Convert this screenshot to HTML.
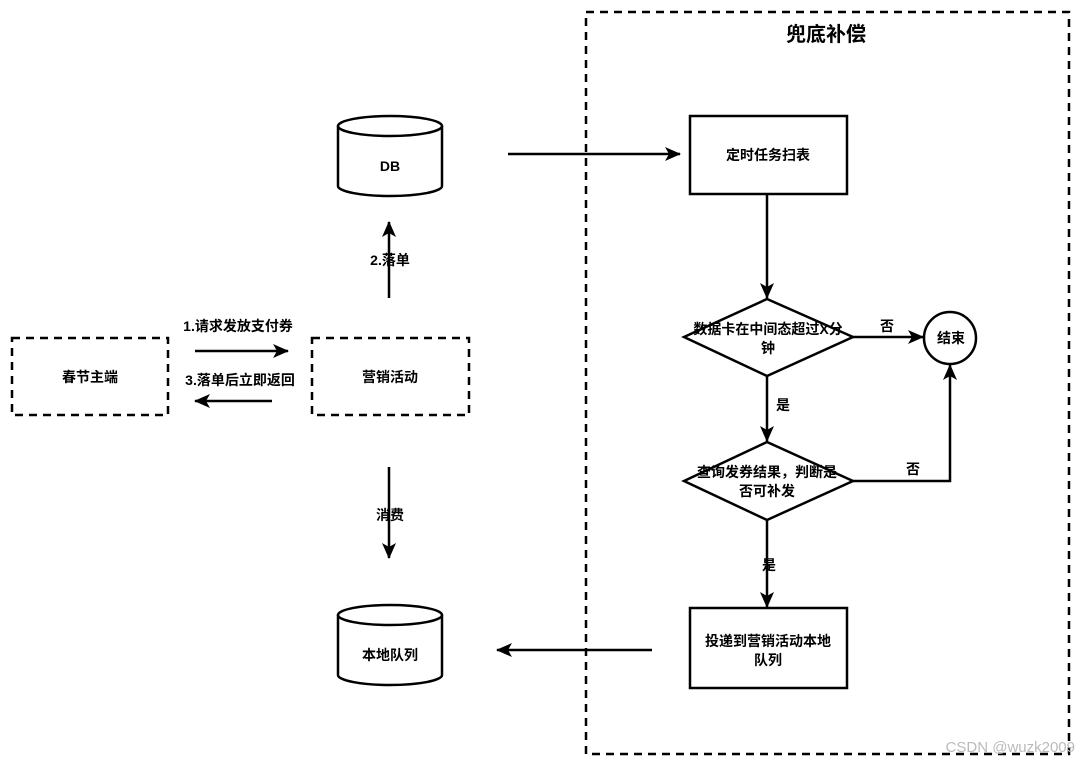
<!DOCTYPE html>
<html><head><meta charset="utf-8"><style>
html,body{margin:0;padding:0;background:#fff;}
svg text{font-family:"Liberation Sans","Noto Sans CJK SC",sans-serif;font-weight:bold;fill:#000;}
</style></head><body>
<svg width="1080" height="766" viewBox="0 0 1080 766" xmlns="http://www.w3.org/2000/svg">
<defs><marker id="a" markerWidth="16" markerHeight="14" refX="15" refY="7" orient="auto" markerUnits="userSpaceOnUse"><path d="M0,0 L16,7 L0,14 L4,7 Z" fill="#000"/></marker></defs>
<g fill="none" stroke="#000" stroke-width="2.5">
<rect x="586" y="12" width="483" height="742" stroke-dasharray="8,6"/>
<rect x="12" y="338" width="156" height="77" stroke-dasharray="8,6"/>
<rect x="312" y="338" width="157" height="77" stroke-dasharray="8,6"/>
<rect x="690" y="116" width="157" height="78"/>
<rect x="690" y="608" width="157" height="80"/>
<path d="M684,337 L767,299 L853,337 L767,376 Z"/>
<path d="M684,481 L767,442 L853,481 L767,520 Z"/>
<circle cx="950" cy="338" r="26"/>
<path d="M338,126 v60 a52,10 0 0 0 104,0 v-60"/><ellipse cx="390" cy="126" rx="52" ry="10"/>
<path d="M338,615 v60 a52,10 0 0 0 104,0 v-60"/><ellipse cx="390" cy="615" rx="52" ry="10"/>
<g marker-end="url(#a)">
<line x1="195" y1="351" x2="288" y2="351"/>
<line x1="272" y1="401" x2="195" y2="401"/>
<line x1="389" y1="298" x2="389" y2="222"/>
<line x1="389" y1="467" x2="389" y2="558"/>
<line x1="508" y1="154" x2="680" y2="154"/>
<line x1="652" y1="650" x2="497" y2="650"/>
<line x1="767" y1="194" x2="767" y2="298"/>
<line x1="853" y1="337" x2="923" y2="337"/>
<line x1="767" y1="376" x2="767" y2="441"/>
<polyline points="853,481 950,481 950,365"/>
<line x1="767" y1="520" x2="767" y2="607"/>
</g>
</g>
<g font-size="14" text-anchor="middle">
<text x="826" y="41" font-size="20">兜底补偿</text>
<text x="390" y="171">DB</text>
<text x="390" y="660">本地队列</text>
<text x="90" y="382">春节主端</text>
<text x="390" y="382">营销活动</text>
<text x="238" y="331">1.请求发放支付券</text>
<text x="240" y="385">3.落单后立即返回</text>
<text x="390" y="265">2.落单</text>
<text x="390" y="520">消费</text>
<text x="768" y="160">定时任务扫表</text>
<text x="768" y="334">数据卡在中间态超过X分</text>
<text x="768" y="353">钟</text>
<text x="767" y="477">查询发券结果，判断是</text>
<text x="767" y="496">否可补发</text>
<text x="951" y="343">结束</text>
<text x="768" y="646">投递到营销活动本地</text>
<text x="768" y="665">队列</text>
<text x="887" y="331">否</text>
<text x="783" y="410">是</text>
<text x="913" y="474">否</text>
<text x="769" y="570">是</text>
</g>
<text x="1075" y="752" font-size="15" text-anchor="end" style="font-weight:normal;fill:#bbb">CSDN @wuzk2009</text>
</svg>
</body></html>
